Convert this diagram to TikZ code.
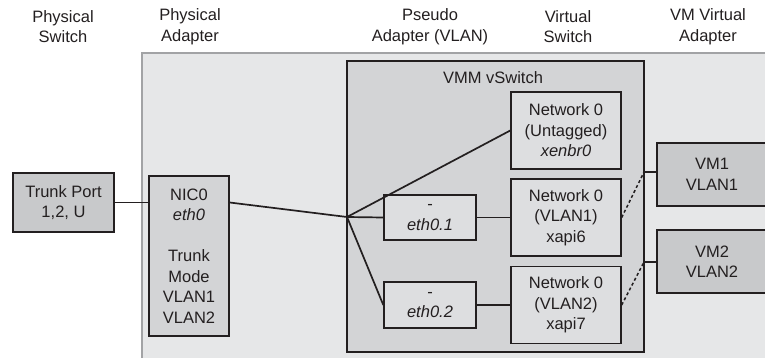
\documentclass[tikz,border=0pt]{standalone}
\usepackage{fontspec}
\setmainfont{Liberation Sans}
\usetikzlibrary{positioning}
\definecolor{inkblack}{HTML}{231F20}
\definecolor{hostgray}{HTML}{E6E7E8}
\definecolor{hostline}{HTML}{A2A3A5}
\definecolor{switchgray}{HTML}{D3D4D6}
\definecolor{portgray}{HTML}{DDDEE0}
\definecolor{darkgray}{HTML}{C8C9CB}

\begin{document}
\begin{tikzpicture}[
  x=1pt,y=-1pt,
  font=\fontsize{16.5}{20.5}\selectfont,
  box/.style={rectangle,draw=inkblack,line width=1.4pt,inner sep=0pt,
    align=center,text=inkblack},
  hwbox/.style={box,fill=darkgray},
  nicbox/.style={box,fill=switchgray},
  portbox/.style={box,fill=portgray},
  title/.style={align=center,inner sep=0pt,text=inkblack},
  link/.style={line width=1.7pt,color=inkblack},
  vif/.style={link,line width=1.5pt,dash pattern=on 3pt off 2.5pt}
]
  \useasboundingbox (0,0) rectangle (765,358);

  % host area
  \fill[hostgray] (142,53) rectangle (775,368);
  \draw[hostline,line width=1.3pt] (142,368) -- (142,53) -- (775,53);

  % column titles
  \node[title] (tswitch) at (63,26.5) {Physical\\Switch};
  \node[title] (tadapter) at (190,26.5) {Physical\\Adapter};
  \node[title] (tpseudo) at (430,26.5) {Pseudo\\Adapter (VLAN)};
  \node[title] (tvswitch) at (568,26.5) {Virtual\\Switch};
  \node[title] (tvm) at (708,26.5) {VM Virtual\\Adapter};

  % physical side
  \node[hwbox,minimum width=101pt,minimum height=59pt] (trunk) at (63.5,202.5)
    {Trunk Port\\1,2, U};
  \node[nicbox,minimum width=80pt,minimum height=160pt] (nic) at (189,256)
    {NIC0\\\textit{eth0}\\[20.5pt]Trunk\\Mode\\VLAN1\\VLAN2};

  % virtual switch
  \node[nicbox,minimum width=297pt,minimum height=291pt] (vswitch) at (495.5,206.5) {};
  \node[title] (vmm) at (493,78) {VMM vSwitch};
  \node[portbox,minimum width=110pt,minimum height=77pt] (untag) at (566,130.5)
    {Network 0\\(Untagged)\\\textit{xenbr0}};
  \node[portbox,minimum width=110pt,minimum height=77pt] (vlan1) at (566,217.5)
    {Network 0\\(VLAN1)\\xapi6};
  \node[portbox,minimum width=110pt,minimum height=77pt] (vlan2) at (566,305)
    {Network 0\\(VLAN2)\\xapi7};
  \node[portbox,minimum width=92pt,minimum height=45pt] (eth1) at (430,217.5)
    {-\\\textit{eth0.1}};
  \node[portbox,minimum width=92pt,minimum height=46pt] (eth2) at (430,305)
    {-\\\textit{eth0.2}};

  % virtual machines
  \node[hwbox,minimum width=110pt,minimum height=63pt] (vm1) at (712,174.5)
    {VM1\\VLAN1};
  \node[hwbox,minimum width=110pt,minimum height=63pt] (vm2) at (712,261.5)
    {VM2\\VLAN2};

  \coordinate (hub) at (347,217);
  \coordinate (k1) at (644,172);
  \coordinate (k2) at (644,262);

  \draw[link] (trunk.east) -- (trunk.east -| nic.west);
  \draw[link] (trunk.east -| nic.east) -- (hub);
  \draw[link] (hub) -- (untag.west);
  \draw[link] (hub) -- (eth1.west);
  \draw[link] (hub) -- (eth2.west);
  \draw[link] (eth1) -- (vlan1);
  \draw[link] (eth2) -- (vlan2);
  \draw[vif] (vlan1.east) -- (k1);
  \draw[vif] (vlan2.east) -- (k2);
  \draw[link] (k1) -- (k1 -| vm1.west);
  \draw[link] (k2) -- (k2 -| vm2.west);
\end{tikzpicture}
\end{document}
